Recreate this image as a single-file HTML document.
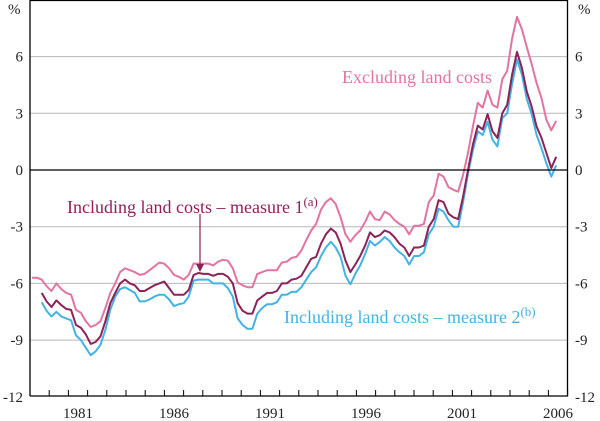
<!DOCTYPE html>
<html><head><meta charset="utf-8"><style>
body{margin:0;background:#fff;}
svg{display:block;font-family:"Liberation Serif",serif;}
</style></head><body>
<div style="position:relative;width:600px;height:421px;">
<svg id="chart" width="600" height="421" viewBox="0 0 600 421">
<g id="grid"></g><g id="series"></g><g id="axes"></g><g id="labels"></g>
</svg>
<div style="position:absolute;left:0;top:0;width:600px;height:421px;pointer-events:none;font-family:'Liberation Serif',serif;">
<div style="position:absolute;left:8px;top:2px;font-size:15px;color:#222;">%</div>
<div style="position:absolute;left:578px;top:2px;font-size:15px;color:#222;">%</div>
<div style="position:absolute;left:342px;top:67px;font-size:18px;line-height:20px;color:#e274a2;white-space:nowrap;">Excluding land costs</div>
<div style="position:absolute;left:67px;top:192px;font-size:18px;line-height:20px;color:#8c2358;white-space:nowrap;">Including land costs – measure 1<sup style="font-size:13px;">(a)</sup></div>
<div style="position:absolute;left:284px;top:302px;font-size:18px;line-height:20px;color:#45b2e2;white-space:nowrap;">Including land costs – measure 2<sup style="font-size:13px;">(b)</sup></div>
<svg style="position:absolute;left:0;top:0;" width="600" height="421"><line x1="200" y1="214" x2="200" y2="267" stroke="#8c2358" stroke-width="1.2"/><path d="M196,264 L204,264 L200,272 Z" fill="#8c2358"/></svg>
</div>
</div>
<script>
const yTicks=[6,3,0,-3,-6,-9,-12];
const yTickLabels=["6","3","0","-3","-6","-9","-12"];
const xYears=[1981,1986,1991,1996,2001,2006];
const seriesStart=1979.1;
const quarterStep=0.2552;
const excludingLand=[-5.7,-5.7,-5.8,-6.15,-6.4,-6.0,-6.3,-6.5,-6.6,-7.4,-7.55,-8.0,-8.3,-8.2,-8.0,-7.3,-6.5,-6.0,-5.4,-5.2,-5.3,-5.4,-5.55,-5.5,-5.3,-5.1,-4.9,-4.95,-5.2,-5.55,-5.65,-5.8,-5.55,-4.95,-4.95,-4.95,-4.95,-5.05,-4.85,-4.75,-4.8,-5.2,-5.95,-6.1,-6.2,-6.2,-5.5,-5.4,-5.3,-5.3,-5.3,-4.9,-4.85,-4.65,-4.6,
-4.26,-3.7,-3.2,-2.85,-2.1,-1.7,-1.5,-1.8,-2.5,-3.4,-3.8,-3.45,-3.2,-2.75,-2.2,-2.6,-2.65,-2.2,-2.35,-2.65,-2.85,-3.0,-3.4,-2.95,-2.95,-2.85,-1.7,-1.35,-0.2,-0.35,-0.9,-1.05,-1.15,-0.25,0.9,2.3,3.55,3.3,4.2,3.45,3.3,4.8,5.25,6.95,8.1,7.45,6.5,5.6,4.6,3.8,2.65,2.1,2.6];
const measure1=[-6.5,-6.95,-7.25,-6.9,-7.15,-7.35,-7.4,-8.2,-8.35,-8.7,-9.2,-9.1,-8.8,-8.0,-7.05,-6.5,-6.0,-5.8,-6.0,-6.1,-6.4,-6.4,-6.25,-6.1,-6.0,-5.9,-6.25,-6.6,-6.6,-6.6,-6.35,-5.55,-5.45,-5.5,-5.5,-5.6,-5.5,-5.5,-5.65,-6.0,-7.05,-7.45,-7.6,-7.6,-6.9,-6.7,-6.5,-6.5,-6.4,-6.0,-6.0,-5.8,-5.75,
-5.6,-5.15,-4.7,-4.6,-3.9,-3.4,-3.1,-3.3,-3.9,-4.8,-5.4,-5.0,-4.55,-4.0,-3.3,-3.55,-3.45,-3.2,-3.3,-3.55,-3.9,-4.1,-4.55,-4.1,-4.1,-4.0,-3.0,-2.6,-1.6,-1.7,-2.3,-2.5,-2.6,-1.4,0.0,1.35,2.35,2.15,2.95,2.05,1.7,3.0,3.45,5.05,6.25,5.4,4.15,3.35,2.3,1.7,0.9,0.1,0.7];
const measure2=[-7.0,-7.45,-7.75,-7.5,-7.75,-7.85,-7.95,-8.75,-9.0,-9.4,-9.8,-9.6,-9.25,-8.45,-7.4,-6.7,-6.3,-6.2,-6.35,-6.5,-6.95,-6.95,-6.85,-6.7,-6.6,-6.6,-6.85,-7.2,-7.1,-7.05,-6.7,-5.85,-5.8,-5.8,-5.8,-6.0,-6.0,-6.0,-6.25,-6.7,-7.85,-8.2,-8.4,-8.4,-7.6,-7.3,-7.1,-7.1,-7.0,-6.6,-6.6,-6.45,-6.45,
-6.2,-5.8,-5.4,-5.15,-4.55,-4.1,-3.8,-4.1,-4.6,-5.6,-6.05,-5.5,-5.05,-4.45,-3.75,-4.0,-3.8,-3.55,-3.75,-4.1,-4.35,-4.55,-5.0,-4.55,-4.55,-4.35,-3.4,-3.0,-2.05,-2.2,-2.65,-3.0,-3.0,-1.7,-0.2,1.05,2.05,1.85,2.55,1.6,1.25,2.75,3.0,4.55,5.85,5.05,3.75,2.95,1.85,1.15,0.35,-0.35,0.25];

const NS="http://www.w3.org/2000/svg";
const L=30,R=567.5,T=0,B=396;
function xs(t){return L+(t-1979)*19.2;}
function ys(v){return 170-v*18.9;}
function mk(tag,attrs,parent){const e=document.createElementNS(NS,tag);for(const k in attrs)e.setAttribute(k,attrs[k]);parent.appendChild(e);return e;}
const grid=document.getElementById('grid'),axes=document.getElementById('axes'),ser=document.getElementById('series'),lab=document.getElementById('labels');

yTicks.forEach((v,i)=>{
  if(v!==0&&v!==-12){const g=mk('line',{x1:L,x2:R,y1:ys(v),y2:ys(v),stroke:'#b8b8b8','stroke-width':1},grid);
  
  }
  const a=mk('text',{x:23,y:ys(v)+5,'text-anchor':'end','font-size':15,fill:'#222'},lab);a.textContent=yTickLabels[i];
  
  
  const b=mk('text',{x:575,y:ys(v)+5,'text-anchor':'start','font-size':15,fill:'#222'},lab);b.textContent=yTickLabels[i];
  
  
});
const z=mk('line',{x1:L,x2:R,y1:ys(0),y2:ys(0),stroke:'#000','stroke-width':1.2},axes);


const frame=mk('path',{d:`M${L},${B}V${T+0.5}H${R}V${B}H${L}`,fill:'none',stroke:'#000','stroke-width':1.3},axes);


for(let y=1979;y<=2007;y++){
  const t=mk('line',{x1:xs(y),x2:xs(y),y1:B,y2:B-6,stroke:'#000','stroke-width':1},axes);
  
  
}
xYears.forEach(y=>{
  const t=mk('text',{x:xs(y+0.5),y:418,'text-anchor':'middle','font-size':15,fill:'#222'},lab);t.textContent=String(y);
  
  
});
function line(vals,offset,color,name){
  const d=vals.map((v,i)=>(i?'L':'M')+xs(seriesStart+(i+offset)*quarterStep).toFixed(1)+','+ys(v).toFixed(1)).join('');
  const p=mk('path',{d:d,fill:'none',stroke:color,'stroke-width':2,'stroke-linejoin':'round'},ser);
  
  
}
line(excludingLand,0,'#e274a2','line-excluding-land-costs');
line(measure2,2,'#45b2e2','line-measure-2');
line(measure1,2,'#8c2358','line-measure-1');
</script>
</body></html>
